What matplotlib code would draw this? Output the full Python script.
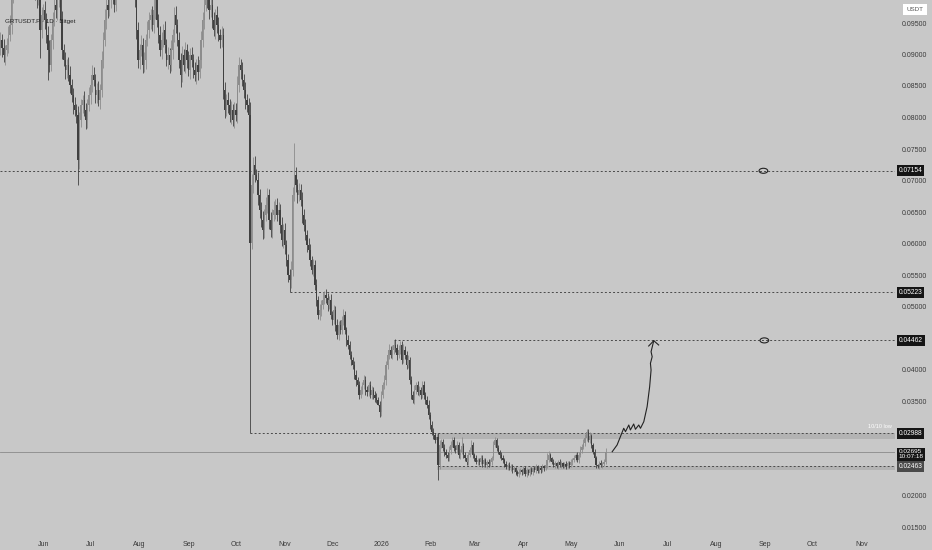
import datetime as dt
import numpy as np
import matplotlib
matplotlib.use("Agg")
import matplotlib.pyplot as plt
import matplotlib.dates as mdates
import matplotlib.transforms as mtransforms
from matplotlib.patches import Ellipse, Rectangle

plt.rcParams['font.family'] = ['Liberation Sans', 'DejaVu Sans']

# daily candles GRTUSDT.P, prices in units of 0.00001
start = dt.date(2025, 5, 5)
first_open = 9100
close = [
    9230, 9103, 8992, 9071, 9151, 9309, 9468,
    9950, 10100, 10250, 10180, 10300, 10420, 10350, 10200, 10280, 10400, 10330, 10150, 10050, 10200, 10120, 9980, 9900, 9960,
    9389, 9627, 9706, 9548, 9309, 9071, 8833, 9230, 9548, 9786, 9706, 9865, 9944, 9548, 9071,
    8913, 8754, 8833, 8675, 8516, 8357, 8198, 8119, 8040, 7325,
    7960, 8198, 8278, 8119, 7960, 8198, 8357, 8516, 8675, 8595, 8357, 8437, 8278, 8437, 8913,
    9230, 9548, 9786, 9706, 9865, 10024, 9944, 9786, 10024, 10182, 10103,
    10182, 10341, 10262, 10103, 10182, 10024, 10262, 10182, 10024, 9865,
    9389, 8913, 9071, 9151, 8833, 8913, 9230, 9389, 9548, 9627, 9468, 9706, 9865, 9548,
    9309, 9071, 9230, 9389, 9151, 8913, 8992, 8833, 9071, 9309, 9627, 9468, 9230, 8913, 8675,
    8992, 8833, 9071, 8913, 8754, 8992, 8913, 8754, 8675, 8833, 8722, 8913,
    9230, 9548, 9786, 9944, 9865, 9706, 9786, 9548, 9389, 9627, 9468, 9309, 9230, 9309,
    8437, 8119, 8278, 8198, 8040, 8119, 7960, 8119, 8040, 8516, 8833, 8754, 8595, 8437, 8278, 8198, 8040,
    6008,
    6929, 7246, 7087, 7008, 6770, 6532, 6373, 6214, 6452, 6611, 6770, 6373,
    6214, 6452, 6532, 6611, 6452, 6532, 6294, 6056, 6214, 5976, 5738, 5500,
    5421, 5579, 6770, 7087,
    6929, 6770, 6849, 6690, 6452, 6294, 6135, 5976, 5897, 5738, 5579, 5659,
    5341, 5103, 4865, 4944, 5024, 5103, 5183, 5135, 5024, 5103, 4865, 4786,
    4944, 4706, 4548, 4706, 4627, 4786, 4865, 4627, 4468, 4389, 4230, 4151,
    4071, 3912, 3833, 3754, 3595, 3675, 3754, 3833, 3675, 3643, 3754, 3595,
    3675, 3595, 3548, 3516, 3437, 3325, 3595, 3754, 3833, 4071, 4230, 4310,
    4230, 4310, 4389, 4341, 4230, 4310, 4389, 4151, 4310, 4230, 4071, 4151,
    3833, 3595, 3516, 3675, 3754, 3643, 3675, 3595, 3754, 3595, 3516, 3437,
    3278, 3119, 3008, 2960, 2881, 2928,
    2484,
    2802, 2849, 2754, 2691, 2643, 2595, 2722,
    2802, 2881, 2754, 2722, 2802, 2643, 2691, 2786, 2643, 2595, 2532, 2643,
    2722, 2802, 2643, 2595, 2532, 2563, 2532, 2595, 2500, 2563, 2484, 2532,
    2500, 2532, 2595, 2802, 2881, 2754, 2691, 2643, 2595, 2563, 2500, 2452,
    2484, 2436, 2468, 2405, 2436, 2373, 2341, 2373, 2405, 2373, 2436, 2341,
    2405, 2357, 2420, 2373, 2436, 2405, 2468, 2389, 2436, 2405, 2468, 2436,
    2484, 2563, 2643, 2595, 2532, 2484, 2516, 2468, 2532, 2484, 2516, 2468,
    2500, 2468, 2516, 2484, 2532, 2563, 2595, 2643, 2563, 2643, 2722, 2770,
    2833, 2912, 3008, 2881, 2944, 2802, 2691, 2595, 2484, 2468, 2516, 2484,
    2500, 2532, 2695,
]
up_wick = [
    120, 90, 150, 80, 110, 140, 160, 130, 90, 170, 120, 150, 100, 140, 180, 120, 90, 160, 130, 110, 150, 120, 140, 100,
    130, 180, 120, 90, 150, 110, 140, 160, 100, 130, 170, 120, 90, 140, 110, 150, 100, 130, 90, 120, 140, 100, 110, 130,
    90, 150, 120, 100, 80, 140, 110, 90, 130, 100, 160, 120, 90, 110, 140, 100, 150, 120, 170, 130, 100, 140, 160, 110,
    120, 150, 90, 130, 110, 160, 100, 140, 120, 90, 150, 110, 130, 100, 140, 120, 90, 160, 110, 130, 100, 150, 120, 90,
    140, 180, 110, 130, 90, 150, 120, 100, 140, 90, 130, 110, 160, 100, 120, 140, 90, 130, 110, 150, 100, 120, 90, 140,
    110, 130, 90, 120, 100, 140, 110, 150, 130, 90, 160, 120, 100, 140, 110, 130, 90, 150, 120, 100, 140, 110, 130, 90,
    120, 100, 140, 90, 130, 110, 150, 120, 100, 130, 90, 120, 100, 110, 200, 180, 120, 150, 100, 130, 90, 120, 140, 100,
    130, 110, 90, 120, 100, 140, 90, 110, 130, 100, 120, 90, 110, 80, 100, 90, 150, 120, 100, 130, 90, 110, 100, 120,
    90, 100, 80, 110, 90, 70, 100, 80, 90, 60, 100, 80, 120, 70, 90, 80, 60, 90, 70, 80, 60, 90, 70, 80,
    60, 90, 70, 50, 80, 60, 70, 50, 60, 80, 50, 70, 60, 50, 80, 60, 70, 50, 60, 70, 50, 60, 80, 50,
    60, 70, 50, 80, 60, 70, 90, 60, 80, 70, 90, 60, 80, 70, 60, 90, 70, 60, 80, 50, 60, 70, 80, 50,
    60, 70, 50, 60, 70, 50, 60, 80, 50, 60, 70, 40, 50, 60, 80, 40, 50, 60, 40, 50, 70, 60, 40, 50,
    40, 60, 50, 40, 60, 50, 40, 30, 50, 40, 60, 40, 30, 50, 40, 30, 40, 50, 30, 40, 30, 40, 50, 30,
    60, 40, 30, 40, 30, 50, 40, 30, 40, 30, 40, 30, 30, 40, 20, 30, 40, 30, 20, 30, 40, 30, 20, 30,
    30, 20, 40, 30, 20, 30, 40, 30, 20, 30, 40, 60, 30, 20, 40, 30, 20, 30, 40, 30, 20, 30, 40, 30,
    30, 40, 30, 40, 30, 50, 40, 60, 50, 60, 70, 40, 50, 60, 40, 30, 40, 30, 20, 30, 40, 30, 40, 50,
]
down_wick = [
    100, 140, 110, 160, 90, 120, 100, 150, 130, 90, 120, 140, 110, 90, 130, 160, 100, 120, 150, 90, 110, 140, 120, 160,
    110, 200, 130, 100, 140, 120, 150, 110, 90, 140, 100, 130, 160, 110, 120, 140, 100, 150, 120, 90, 130, 110, 140, 100,
    120, 180, 140, 110, 130, 90, 150, 120, 100, 140, 110, 90, 130, 120, 100, 150, 110, 130, 90, 140, 120, 100, 130, 150,
    110, 90, 140, 120, 100, 130, 150, 110, 90, 140, 120, 100, 130, 110, 150, 120, 140, 100, 130, 110, 150, 90, 120, 140,
    100, 130, 150, 110, 120, 90, 140, 110, 130, 100, 150, 120, 90, 140, 110, 130, 100, 120, 150, 110, 90, 130, 120, 100,
    140, 110, 130, 90, 150, 120, 100, 130, 110, 140, 90, 120, 150, 110, 130, 100, 140, 120, 90, 130, 110, 150, 120, 100,
    130, 110, 140, 100, 120, 90, 130, 110, 150, 100, 120, 140, 110, 130, 120, 100, 120, 110, 0, 160, 130, 110, 140, 120,
    100, 130, 150, 110, 120, 100, 140, 90, 110, 130, 100, 120, 140, 90, 110, 0, 120, 100, 90, 110, 130, 100, 90, 120,
    100, 80, 110, 90, 100, 70, 90, 80, 100, 70, 80, 90, 70, 60, 80, 90, 70, 60, 80, 70, 90, 60, 80, 70,
    70, 80, 60, 90, 70, 60, 80, 70, 60, 90, 70, 60, 50, 70, 60, 80, 60, 70, 50, 60, 70, 60, 50, 0,
    60, 70, 50, 60, 80, 60, 70, 50, 60, 70, 60, 80, 50, 70, 60, 50, 70, 60, 50, 70, 60, 50, 70, 60,
    50, 70, 60, 50, 70, 60, 50, 60, 70, 50, 60, 50, 40, 0, 60, 50, 40, 60, 50, 40, 50, 60, 40, 50,
    40, 50, 40, 60, 40, 50, 40, 50, 40, 30, 40, 50, 40, 30, 50, 40, 30, 40, 50, 30, 40, 50, 30, 40,
    30, 40, 50, 30, 40, 30, 40, 50, 30, 40, 30, 40, 40, 30, 50, 30, 40, 30, 40, 30, 30, 40, 30, 40,
    30, 40, 30, 40, 30, 30, 40, 30, 40, 30, 40, 30, 40, 30, 30, 40, 30, 40, 30, 40, 30, 30, 40, 30,
    40, 30, 40, 30, 40, 30, 40, 30, 40, 30, 50, 40, 30, 40, 50, 40, 30, 40, 30, 40, 30, 40, 30, 30,
]
high_spikes = {110: 9754, 186: 7595, 249: 4462, 286: 2928, 292: 2928, 298: 2881,
               313: 2928, 346: 2675, 371: 3040, 383: 2754}
low_spikes = {25: 8950, 30: 8595, 49: 6929, 114: 8484, 158: 2988, 183: 5223,
              240: 3246, 277: 2246}

# levels drawn on the chart (price, first candle index)
levels = [(0.07154, 0), (0.05223, 183), (0.04462, 249), (0.02988, 158), (0.02463, 277)]
last_price = 0.02695
zones = [(0.02893, 0.02988), (0.02400, 0.02463)]
zone_start = 276.6
# price scale ticks shown (others hidden behind the level badges)
price_ticks = [0.015, 0.020, 0.035, 0.040, 0.050, 0.055, 0.060, 0.065, 0.070,
               0.075, 0.080, 0.085, 0.090, 0.095]
# hand-drawn path: (days after start, price)
arrow_day = [387.2, 390.3, 392.8, 394.5, 395.6, 397.7, 398.7, 400.8, 401.9, 404.0, 405.1,
             407.2, 409.3, 410.9, 411.8, 411.4, 412.5, 411.8, 413.1, 413.5]
arrow_price = [0.02695, 0.02802, 0.02960, 0.03067, 0.03013, 0.03119, 0.03040, 0.03135, 0.03051,
               0.03119, 0.03067, 0.03172, 0.03410, 0.03727, 0.03992, 0.04098, 0.04203, 0.04282,
               0.04416, 0.04457]
head_day = [410.3, 413.5, 416.6]
head_price = [0.04373, 0.04457, 0.04389]
circles = [(482.9, 0.07154), (483.5, 0.04462)]

sc = 1e-5
c = np.array(close) * sc
n = len(c)
o = np.concatenate([[first_open * sc], c[:-1]])
hi = np.maximum(o, c) + np.array(up_wick[:n]) * sc
lo = np.minimum(o, c) - np.array(down_wick[:n]) * sc
for k, v in high_spikes.items():
    hi[k] = max(hi[k], v * sc)
for k, v in low_spikes.items():
    lo[k] = min(lo[k], v * sc)

x0 = mdates.date2num(start)
x = x0 + np.arange(n)

bg = '#c8c8c8'
up_col = '#8c8c8c'
dn_col = '#404040'

fig = plt.figure(figsize=(9.32, 5.5), dpi=100, facecolor=bg)
ax = fig.add_axes([0, 15 / 550, 895 / 932, 535 / 550])
ax.set_facecolor(bg)

cols = np.where(c >= o, up_col, dn_col)
ax.vlines(x, lo, hi, colors=cols, linewidth=0.6, zorder=3)
body_h = np.maximum(np.abs(c - o), 0.00005)
ax.bar(x, body_h, bottom=np.minimum(o, c), width=0.8, color=cols, linewidth=0, zorder=4)

xl = (x0 - 0.3, x0 + 566.2)
ax.set_xlim(*xl)
ax.set_ylim(0.095 - 512 / 6300, 0.095 + 23 / 6300)

# levels
for p, i0 in levels:
    ax.plot([x0 + i0, xl[1]], [p, p], color='#4a4a4a', lw=0.7, ls=(0, (2, 2.2)), zorder=2)
ax.axhline(last_price, color='#8a8a8a', lw=0.6, zorder=1)
for b, t in zones:
    ax.add_patch(Rectangle((x0 + zone_start, b), xl[1] - x0 - zone_start, t - b,
                           facecolor='#b3b3b3', edgecolor='none', zorder=1))

# drawing
ax.plot(x0 + np.array(arrow_day), arrow_price, color='#222222', lw=0.8, zorder=6)
ax.plot(x0 + np.array(head_day), head_price, color='#222222', lw=0.8, zorder=6)
for d, p in circles:
    ax.add_patch(Ellipse((x0 + d, p), 5.5, 0.0008, angle=0, fill=False,
                         edgecolor='#222222', lw=0.8, zorder=6))

# axes
ax.xaxis.set_major_locator(mdates.MonthLocator())
ax.xaxis.set_major_formatter(plt.FuncFormatter(
    lambda v, pos: str(mdates.num2date(v).year) if mdates.num2date(v).month == 1
    else mdates.num2date(v).strftime('%b')))
ax.yaxis.tick_right()
ax.set_yticks(price_ticks)
ax.yaxis.set_major_formatter(plt.FuncFormatter(lambda v, pos: f'{v:.5f}'))
ax.tick_params(axis='both', length=0, labelsize=5, colors='#3a3a3a')
ax.tick_params(axis='x', pad=4)
ax.tick_params(axis='y', pad=5)
for s in ax.spines.values():
    s.set_visible(False)

trans = mtransforms.blended_transform_factory(ax.transAxes, ax.transData)
badges = [(0.07154, '0.07154', '#151515'), (0.05223, '0.05223', '#151515'),
          (0.04462, '0.04462', '#151515'), (0.02988, '0.02988', '#151515'),
          (0.02463, '0.02463', '#4a4a4a')]
for p, s, fc in badges:
    ax.text(1.004, p, s, transform=trans, ha='left', va='center', fontsize=4.8,
            color='white', clip_on=False, zorder=10,
            bbox=dict(boxstyle='square,pad=0.3', fc=fc, ec='none'))
ax.text(1.004, last_price - 0.00042, '0.02695\n10:07:18', transform=trans, ha='left',
        va='center', fontsize=4.6, color='white', linespacing=1.0, clip_on=False, zorder=11,
        bbox=dict(boxstyle='square,pad=0.22', fc='#151515', ec='none'))
ax.text(0.997, 0.03099, '10/10 low', transform=trans, ha='right', va='center',
        fontsize=4, color='white', zorder=10)

ax.text(5 / 895, 1 - 21 / 535, 'GRTUSDT.P · 1D · Bitget', transform=ax.transAxes,
        fontsize=4.5, color='#222222', va='center', ha='left', zorder=10)
fig.text(915 / 932, 1 - 9.5 / 550, 'USDT', fontsize=4.5, color='#555555', ha='center',
         va='center', bbox=dict(boxstyle='square,pad=0.5', fc='white', ec='none'))

fig.savefig('out.png', dpi=100, facecolor=bg)
